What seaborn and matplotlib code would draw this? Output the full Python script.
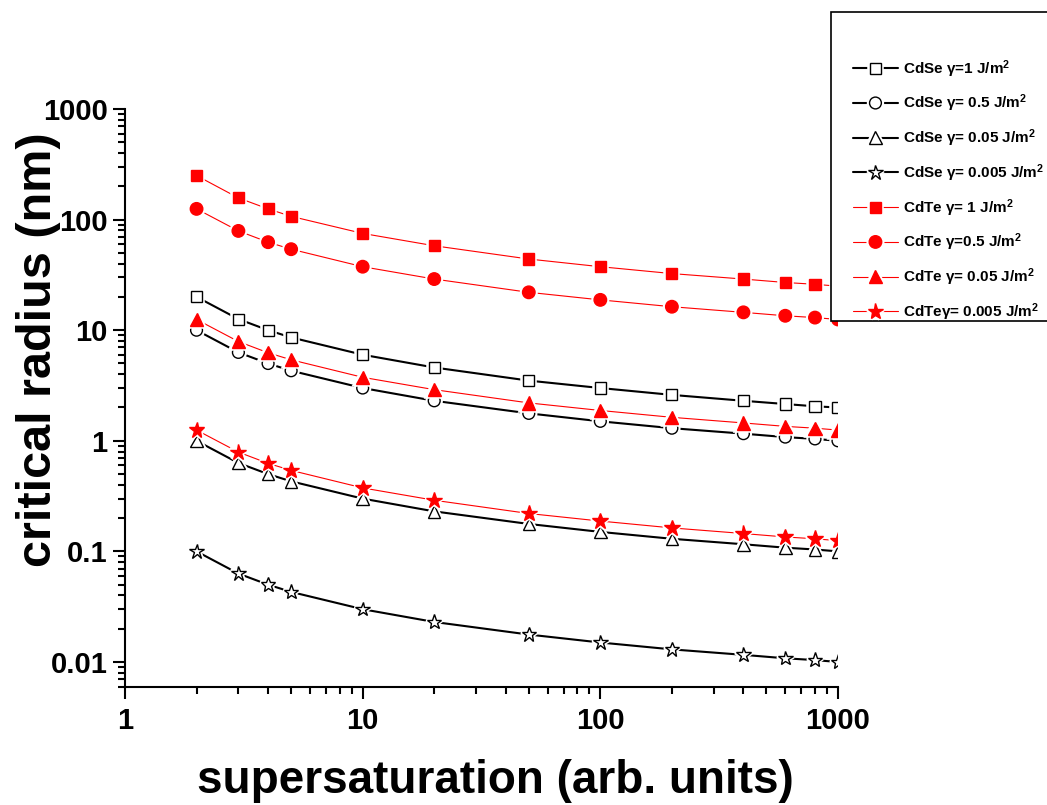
import matplotlib
matplotlib.use("Agg")
import matplotlib.pyplot as plt
import numpy as np
import pandas as pd
import seaborn as sns
from matplotlib.lines import Line2D
from matplotlib.patches import Rectangle
from matplotlib import patheffects as pe
from matplotlib.ticker import LogLocator, FuncFormatter, NullFormatter

# supersaturation values (x) shared by every curve
supersaturation = [2, 3, 4, 5, 10, 20, 50, 100, 200, 400, 600, 800, 1000]

# critical radius (nm), CdSe
cdse_g1 = [20.0, 12.6, 10.0, 8.6, 6.0, 4.6, 3.5, 3.0, 2.6, 2.3, 2.15, 2.05, 2.0]
cdse_g05 = [10.0, 6.3, 5.0, 4.3, 3.0, 2.3, 1.77, 1.5, 1.3, 1.16, 1.08, 1.04, 1.0]
cdse_g005 = [1.0, 0.63, 0.5, 0.43, 0.30, 0.23, 0.177, 0.15, 0.13, 0.116, 0.108, 0.104, 0.10]
cdse_g0005 = [0.10, 0.063, 0.050, 0.043, 0.030, 0.023, 0.0177, 0.015, 0.013, 0.0116, 0.0108, 0.0104, 0.010]

# critical radius (nm), CdTe
cdte_g1 = [250, 157, 125, 107, 75, 58, 44, 37.5, 32.5, 29, 27, 26, 25]
cdte_g05 = [125, 79, 62.5, 54, 37.5, 29, 22, 18.8, 16.3, 14.5, 13.5, 13.0, 12.5]
cdte_g005 = [12.5, 7.9, 6.25, 5.4, 3.75, 2.9, 2.2, 1.88, 1.63, 1.45, 1.35, 1.30, 1.25]
cdte_g0005 = [1.25, 0.79, 0.625, 0.54, 0.375, 0.29, 0.22, 0.188, 0.163, 0.145, 0.135, 0.130, 0.125]

series_labels = [
    "CdSe γ=1 J/m$^{2}$",
    "CdSe γ= 0.5 J/m$^{2}$",
    "CdSe γ= 0.05 J/m$^{2}$",
    "CdSe γ= 0.005 J/m$^{2}$",
    "CdTe γ= 1 J/m$^{2}$",
    "CdTe γ=0.5 J/m$^{2}$",
    "CdTe γ= 0.05 J/m$^{2}$",
    "CdTeγ= 0.005 J/m$^{2}$",
]
series_values = [cdse_g1, cdse_g05, cdse_g005, cdse_g0005,
                 cdte_g1, cdte_g05, cdte_g005, cdte_g0005]

sns.set_style("ticks")
plt.rcParams["font.family"] = ["Liberation Sans", "DejaVu Sans"]
plt.rcParams["font.weight"] = "bold"
plt.rcParams["text.color"] = "black"
plt.rcParams["axes.labelcolor"] = "black"
plt.rcParams["xtick.color"] = "black"
plt.rcParams["ytick.color"] = "black"
plt.rcParams["mathtext.fontset"] = "custom"
plt.rcParams["mathtext.rm"] = "Liberation Sans:bold"
plt.rcParams["mathtext.bf"] = "Liberation Sans:bold"
plt.rcParams["mathtext.default"] = "bf"

# visual style for each curve: (marker, size, filled, colour, line width)
styles = [
    ("s", 8.0, False, "black", 1.5),
    ("o", 8.5, False, "black", 1.5),
    ("^", 9.0, False, "black", 1.5),
    ("*", 11.0, False, "black", 1.5),
    ("s", 8.0, True, "#ff0000", 0.8),
    ("o", 9.0, True, "#ff0000", 0.8),
    ("^", 9.5, True, "#ff0000", 0.8),
    ("*", 12.0, True, "#ff0000", 0.8),
]

rows = []
for lab, vals in zip(series_labels, series_values):
    for s, r in zip(supersaturation, vals):
        rows.append({"series": lab, "S": s, "r": r})
df = pd.DataFrame(rows)

fig = plt.figure(figsize=(10.47, 8.05), dpi=100)
ax = fig.add_axes([125 / 1047, 1 - 687 / 805, (838 - 125) / 1047, (687 - 109) / 805])

handles = []
for lab, (mk, ms, filled, col, lw) in zip(series_labels, styles):
    sub = df[df["series"] == lab]
    sns.lineplot(data=sub, x="S", y="r", ax=ax, color=col, linewidth=lw,
                 legend=False, estimator=None, sort=False)
    mew = 1.0
    face = col if filled else "white"
    halo = [pe.Stroke(linewidth=mew + 3.0, foreground="white"), pe.Normal()]
    ax.plot(sub["S"], sub["r"], ls="none", marker=mk, ms=ms, mfc=face,
            mec=col, mew=mew, path_effects=halo)
    h_line = Line2D([], [], color=col, lw=lw)
    h_mark = Line2D([], [], ls="none", marker=mk, ms=ms, mfc=face, mec=col,
                    mew=mew, path_effects=halo)
    handles.append((h_line, h_mark))

ax.set_xscale("log")
ax.set_yscale("log")
ax.set_xlim(1, 1000)
ax.set_ylim(0.00594, 1000)

fmt = FuncFormatter(lambda v, p: f"{v:g}")
ax.xaxis.set_major_locator(LogLocator(base=10, numticks=10))
ax.yaxis.set_major_locator(LogLocator(base=10, numticks=12))
ax.xaxis.set_major_formatter(fmt)
ax.yaxis.set_major_formatter(fmt)
ax.xaxis.set_minor_locator(LogLocator(base=10, subs=np.arange(2, 10), numticks=20))
ax.yaxis.set_minor_locator(LogLocator(base=10, subs=np.arange(2, 10), numticks=20))
ax.xaxis.set_minor_formatter(NullFormatter())
ax.yaxis.set_minor_formatter(NullFormatter())

for side in ("top", "right"):
    ax.spines[side].set_visible(False)
for side in ("left", "bottom"):
    ax.spines[side].set_linewidth(1.5)
    ax.spines[side].set_color("black")

ax.tick_params(axis="both", which="major", direction="out", length=8.5,
               width=1.5, labelsize=21, color="black", labelcolor="black")
ax.tick_params(axis="both", which="minor", direction="out", length=5,
               width=1.5, color="black")
ax.tick_params(axis="x", which="major", pad=6)
ax.tick_params(axis="y", which="major", pad=4)
for t in ax.get_xticklabels() + ax.get_yticklabels():
    t.set_fontweight("bold")

ax.set_xlabel("supersaturation (arb. units)", fontsize=33, fontweight="bold",
              color="black")
ax.set_ylabel("critical radius (nm)", fontsize=35, fontweight="bold",
              color="black")
ax.xaxis.label.set_va("center")
ax.yaxis.label.set_va("center")
ax.xaxis.set_label_coords(0.519, -0.163)
ax.yaxis.set_label_coords(-0.122, 0.583)

# legend box, drawn above the plotting area
box = Rectangle((831 / 1047, 1 - 321 / 805), (1047 - 831 + 10) / 1047, (321 - 12) / 805,
                transform=fig.transFigure, facecolor="white", edgecolor="black",
                linewidth=1.2, zorder=3)
fig.add_artist(box)

leg = fig.legend(handles, series_labels, loc="upper left",
                 bbox_to_anchor=(853 / 1047, 1 - 58 / 805), frameon=False,
                 borderpad=0, borderaxespad=0, handlelength=2.94,
                 handletextpad=0.33, labelspacing=0.86, numpoints=1,
                 prop={"size": 11, "weight": "bold"})
leg.set_zorder(4)

fig.savefig("out.png", dpi=100)
